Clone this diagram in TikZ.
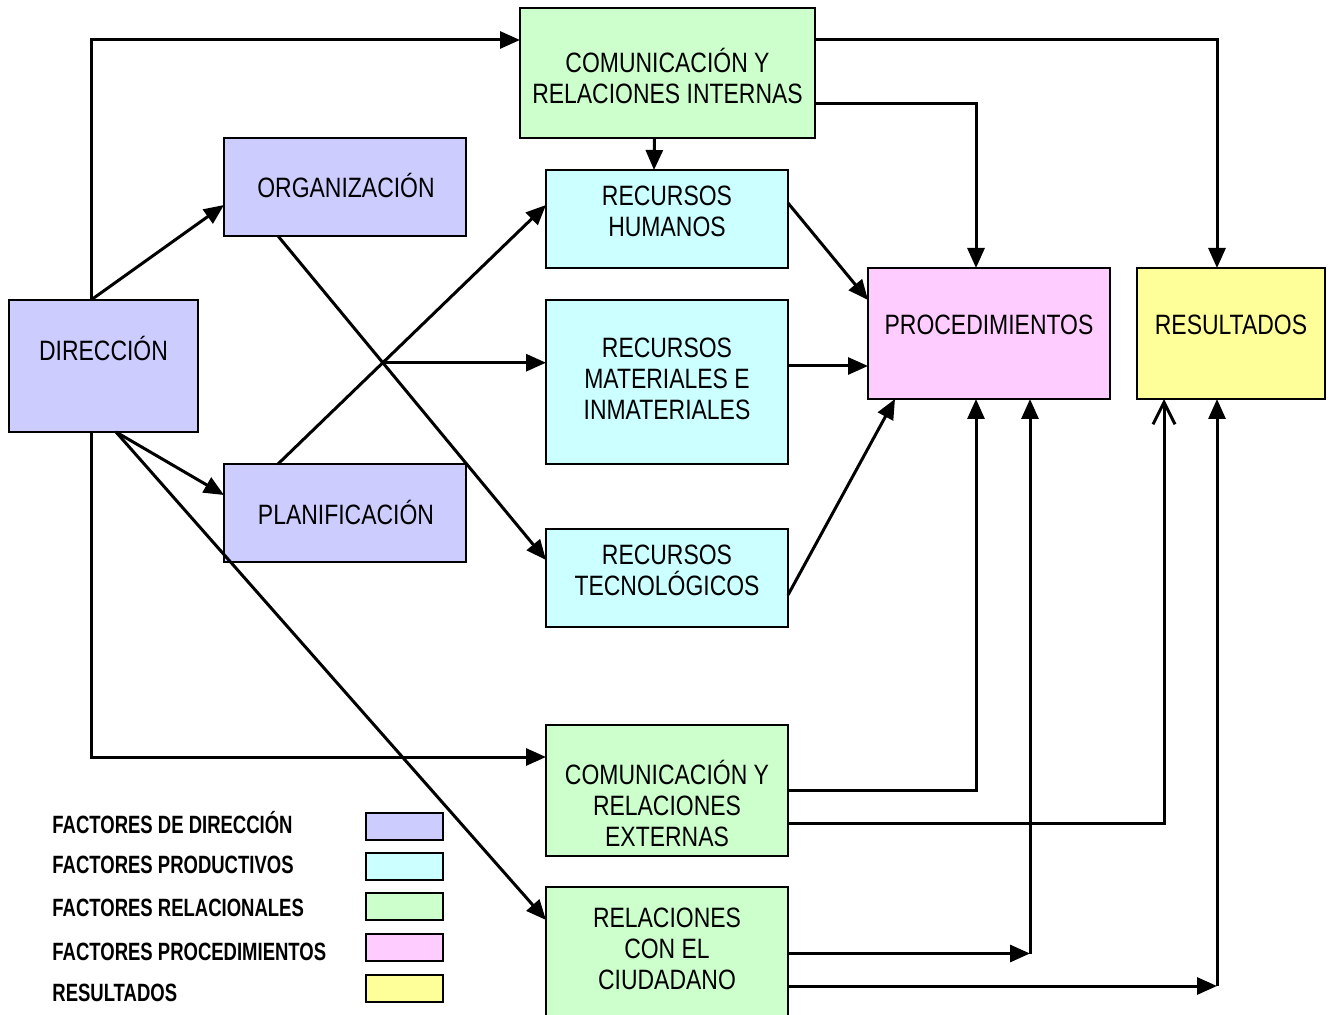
\documentclass[tikz,border=0pt]{standalone}
\usepackage{fontspec}
\setmainfont{Liberation Sans}[FakeStretch=0.82]
\newfontfamily\legendfont{Liberation Sans}[FakeStretch=0.74]
\usepackage{xcolor}
\usetikzlibrary{arrows.meta}
\usetikzlibrary{intersections}

\definecolor{dircol}{HTML}{CCCCFF}
\definecolor{prodcol}{HTML}{CCFFFF}
\definecolor{relcol}{HTML}{CCFFCC}
\definecolor{proccol}{HTML}{FFCCFF}
\definecolor{rescol}{HTML}{FFFF99}

\tikzset{
    box/.style = {draw = black, line width = 1pt, inner sep = 0pt, outer sep = 0pt},
    boxtxt/.style = {inner sep = 0pt, align = center, font = \fontsize{14}{15.5}\selectfont},
    arr/.style = {line width = 1.5pt, -{Triangle[length=10pt, width=8.5pt]}},
    openarr/.style = {line width = 1.5pt, -{Straight Barb[length=11pt, width=11pt, line width=1.5pt]}},
    legtxt/.style = {anchor = base west, inner sep = 0pt,
        font = \legendfont\bfseries\fontsize{12.5}{14}\selectfont},
    swatch/.style = {draw = black, line width = 1pt, minimum width = 38.5pt,
        minimum height = 13.5pt, inner sep = 0pt},
}

\begin{document}
\begin{tikzpicture}[x = 0.5pt, y = -0.5pt]
            \useasboundingbox (0, 0) rectangle (1333, 1015);

            \node[box, fill = dircol, minimum width = 94.5pt, minimum height = 66pt] (dir) at (103.5, 366) {};
            \node[box, fill = dircol, minimum width = 121pt, minimum height = 49pt] (org) at (345, 187) {};
            \node[box, fill = dircol, minimum width = 121pt, minimum height = 49pt] (plan) at (345, 513) {};
            \node[box, fill = relcol, minimum width = 147.5pt, minimum height = 65pt] (cint) at (667.5, 73) {};
            \node[box, fill = prodcol, minimum width = 121pt, minimum height = 49pt] (rhum) at (667, 219) {};
            \node[box, fill = prodcol, minimum width = 121pt, minimum height = 82pt] (rmat) at (667, 382) {};
            \node[box, fill = prodcol, minimum width = 121pt, minimum height = 49pt] (rtec) at (667, 578) {};
            \node[box, fill = proccol, minimum width = 121pt, minimum height = 65.5pt] (proc) at (989, 333.5) {};
            \node[box, fill = rescol, minimum width = 94pt, minimum height = 65.5pt] (res) at (1231, 333.5) {};
            \node[box, fill = relcol, minimum width = 121pt, minimum height = 65.5pt] (cext) at (667, 790.5) {};
            \node[box, fill = relcol, minimum width = 121pt, minimum height = 66.5pt] (rciu) at (667, 953.5) {};

            \node[boxtxt] (dir-t) at (103.5, 348) {DIRECCIÓN};
            \node[boxtxt] (org-t) at (346, 186) {ORGANIZACIÓN};
            \node[boxtxt] (plan-t) at (346, 512) {PLANIFICACIÓN};
            \node[boxtxt] (cint-t) at (667.5, 76) {COMUNICACIÓN Y\\RELACIONES INTERNAS};
            \node[boxtxt] (rhum-t) at (667, 211) {RECURSOS\\HUMANOS};
            \node[boxtxt] (rmat-t) at (667, 379) {RECURSOS\\MATERIALES E\\INMATERIALES};
            \node[boxtxt] (rtec-t) at (667, 570) {RECURSOS\\TECNOLÓGICOS};
            \node[boxtxt] (proc-t) at (989, 325) {PROCEDIMIENTOS};
            \node[boxtxt] (res-t) at (1231, 325) {RESULTADOS};
            \node[boxtxt] (cext-t) at (667, 803) {COMUNICACIÓN Y\\RELACIONES\\EXTERNAS};
            \node[boxtxt] (rciu-t) at (667, 949) {RELACIONES\\CON EL\\CIUDADANO};

            % direccion
            \draw[arr] ([xshift = -6.25pt]dir.north) |- ([yshift = 16.5pt]cint.west);
            \draw[arr] ([xshift = -6.25pt]dir.north) -- ([yshift = -9pt]org.west);
            \draw[arr] ([xshift = 6.25pt]dir.south) -- ([yshift = 9pt]plan.west);
            \draw[arr] ([xshift = 6.25pt]dir.south) -- ([yshift = 16.75pt]rciu.west);
            \draw[arr] ([xshift = -6.25pt]dir.south) |- ([yshift = 16.75pt]cext.west);

            \draw[arr, name path = orgline] ([xshift = -33.5pt]org.south) -- ([yshift = 9pt]rtec.west);
            \draw[arr, name path = planline] ([xshift = -33.5pt]plan.north) -- ([yshift = 7pt]rhum.west);
            \path[name intersections = {of = orgline and planline, by = cross}];
            \draw[arr] (cross) -- (cross -| rmat.west);

            \draw[arr] ([xshift = -6.5pt]cint.south) -- ([xshift = -6.5pt]rhum.north);
            \draw[arr] ([yshift = 16.5pt]cint.east) -| ([xshift = -7pt]res.north);
            \draw[arr] ([yshift = -15.5pt]cint.east) -| ([xshift = -6.5pt]proc.north);

            \draw[arr] ([yshift = 8pt]rhum.east) -- ([yshift = 16.75pt]proc.west);
            \draw[arr] ([yshift = 8pt]rmat.east) -- ([yshift = 8pt]rmat.east -| proc.west);
            \draw[arr] ([yshift = -8.5pt]rtec.east) -- ([xshift = 13.5pt]proc.south west);

            \draw[arr] (cext.east) -| ([xshift = -6.5pt]proc.south);
            \draw[openarr] ([yshift = -16.25pt]cext.east) -| ([xshift = -33.5pt]res.south);

            \coordinate (pin) at ([xshift = 20.5pt]proc.south);
            \coordinate (rin) at ([xshift = -7pt]res.south);
            \draw[arr] (rciu.east) -- (rciu.east -| pin);
            \draw[arr] (rciu.east -| pin) -- (pin);
            \draw[arr] ([yshift = -16.25pt]rciu.east) -- ([yshift = -16.25pt]rciu.east -| rin);
            \draw[arr] ([yshift = -16.25pt]rciu.east -| rin) -- (rin);

            % leyenda
            \node[legtxt] (ldir) at (52, 833) {FACTORES DE DIRECCIÓN};
            \node[legtxt] (lprod) at (52, 873) {FACTORES PRODUCTIVOS};
            \node[legtxt] (lrel) at (52, 916) {FACTORES RELACIONALES};
            \node[legtxt] (lproc) at (52, 960) {FACTORES PROCEDIMIENTOS};
            \node[legtxt] (lres) at (52, 1001) {RESULTADOS};
            \node[swatch, fill = dircol] (sdir) at (404.5, 826.5) {};
            \node[swatch, fill = prodcol] (sprod) at (404.5, 866.5) {};
            \node[swatch, fill = relcol] (srel) at (404.5, 906.5) {};
            \node[swatch, fill = proccol] (sproc) at (404.5, 947.5) {};
            \node[swatch, fill = rescol] (sres) at (404.5, 988.5) {};
        \end{tikzpicture}
\end{document}
